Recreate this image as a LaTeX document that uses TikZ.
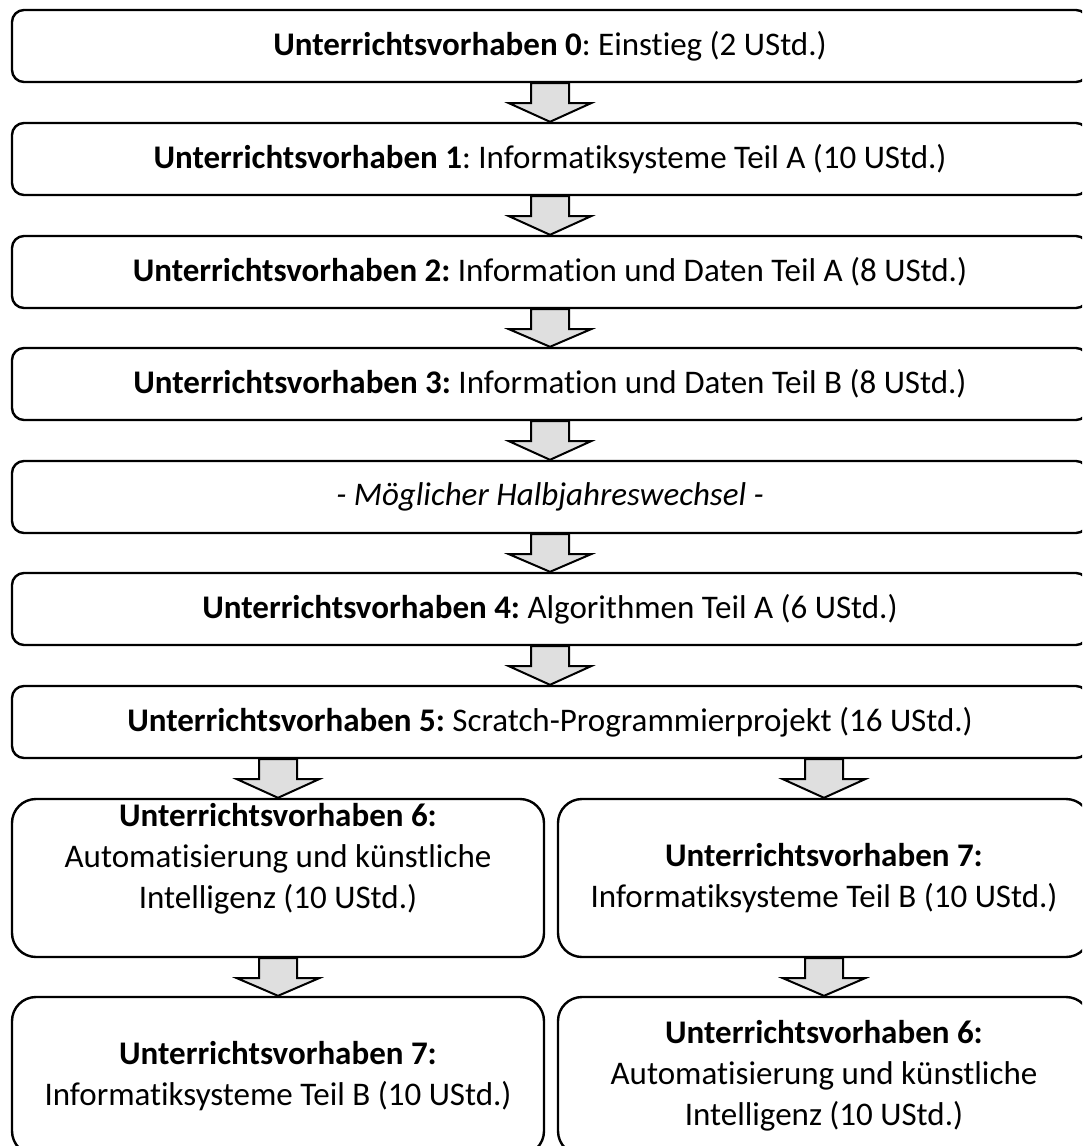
\documentclass[tikz,border=0pt]{standalone}
\usepackage{fontspec}
\setmainfont[Ligatures=NoCommon]{Carlito}
\frenchspacing
\usetikzlibrary{calc}
\tikzset{
    vorhaben/.style={draw, line width=2.4pt, rounded corners=12pt,
        minimum width=1076pt, minimum height=72pt, inner sep=0pt,
        align=center, font=\fontsize{33}{41}\selectfont},
    vorhabenhoch/.style={vorhaben, rounded corners=24pt,
        minimum width=532pt, minimum height=158pt},
    vorhabentext/.style={align=center, inner sep=0pt, font=\fontsize{33}{41}\selectfont},
    blockpfeil/.style={draw, fill=gray!25, line width=2pt, line join=miter},
}
% block arrow: #1 = top centre, #2 = tip
\newcommand{\pfeil}[2]{
    \draw[blockpfeil] ($(#1)+(-19,0)$) -- ($(#1)+(-19,20)$) -- ($(#1)+(-41,20)$)
        -- (#2) -- ($(#1)+(41,20)$) -- ($(#1)+(19,20)$) -- ($(#1)+(19,0)$) -- cycle;
}

\begin{document}
\begin{tikzpicture}[x=1pt,y=-1pt]
\useasboundingbox (0,0) rectangle (1082,1146);
\clip (0,0) rectangle (1082,1146);

\node[vorhaben] (uv0) at (550,46) {\textbf{Unterrichtsvorhaben 0}: Einstieg (2 UStd.)};
\node[vorhaben] (uv1) at (550,159) {\textbf{Unterrichtsvorhaben 1}: Informatiksysteme Teil A (10 UStd.)};
\node[vorhaben] (uv2) at (550,272) {\textbf{Unterrichtsvorhaben 2:} Information und Daten Teil A (8 UStd.)};
\node[vorhaben] (uv3) at (550,384) {\textbf{Unterrichtsvorhaben 3:} Information und Daten Teil B (8 UStd.)};
\node[vorhaben] (hjw) at (550,497) {\textit{- Möglicher Halbjahreswechsel -}};
\node[vorhaben] (uv4) at (550,609) {\textbf{Unterrichtsvorhaben 4:} Algorithmen Teil A (6 UStd.)};
\node[vorhaben] (uv5) at (550,722) {\textbf{Unterrichtsvorhaben 5:} Scratch-Programmierprojekt (16 UStd.)};

\node[vorhabenhoch] (uv6a) at (278,878) {};
\node[vorhabentext] (uv6atext) at (278,859) {\textbf{Unterrichtsvorhaben 6:}\\Automatisierung und künstliche\\Intelligenz (10 UStd.)};
\node[vorhabenhoch] (uv7a) at (824,878) {\textbf{Unterrichtsvorhaben 7:}\\Informatiksysteme Teil B (10 UStd.)};
\node[vorhabenhoch] (uv7b) at (278,1076) {\textbf{Unterrichtsvorhaben 7:}\\Informatiksysteme Teil B (10 UStd.)};
\node[vorhabenhoch] (uv6b) at (824,1076) {\textbf{Unterrichtsvorhaben 6:}\\Automatisierung und künstliche\\Intelligenz (10 UStd.)};

\pfeil{uv0.south}{uv1.north}
\pfeil{uv1.south}{uv2.north}
\pfeil{uv2.south}{uv3.north}
\pfeil{uv3.south}{hjw.north}
\pfeil{hjw.south}{uv4.north}
\pfeil{uv4.south}{uv5.north}
\pfeil{uv5.south -| uv6a.north}{uv6a.north}
\pfeil{uv5.south -| uv7a.north}{uv7a.north}
\pfeil{uv6a.south}{uv7b.north}
\pfeil{uv7a.south}{uv6b.north}
\end{tikzpicture}
\end{document}
